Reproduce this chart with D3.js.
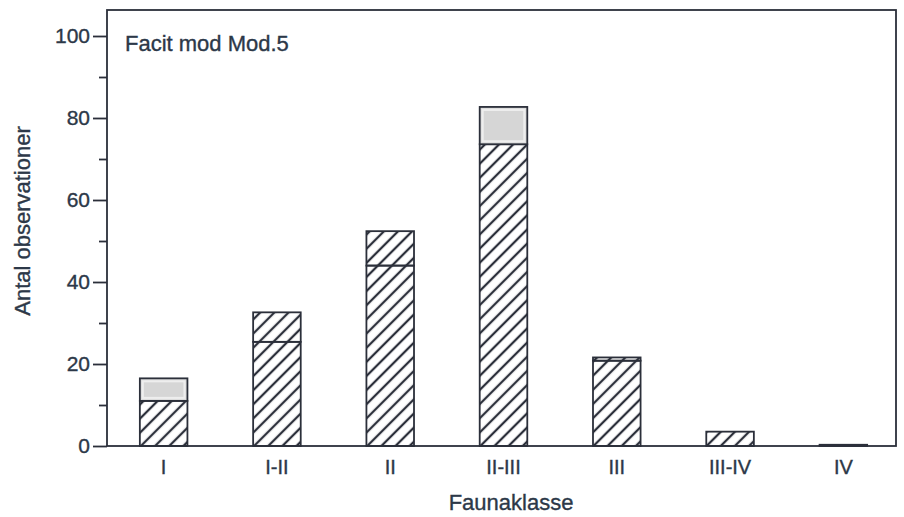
<!DOCTYPE html>
<html>
<head>
<meta charset="utf-8">
<script src="https://cdn.jsdelivr.net/npm/d3@7"></script>
<style>
  body { margin: 0; background: #fff; }
  text { font-family: "Liberation Sans", Arial, sans-serif; fill: #2c3848; stroke: #2c3848; stroke-width: 0.35px; }
</style>
</head>
<body>
<script>
// dati
var categories = ["I", "I-II", "II", "II-III", "III", "III-IV", "IV"];
var lowerValues = [11, 25.4, 44, 73.6, 20.8, 3.5, 0.3];   // parte tratteggiata
var totalValues = [16.5, 32.6, 52.4, 82.7, 21.6, 3.5, 0.3]; // altezza totale
var upperKind = ["grey", "hatch", "hatch", "grey", "hatch", "none", "none"];
var yTicks = [0, 20, 40, 60, 80, 100];
var yMinorTicks = [10, 30, 50, 70, 90];

var W = 904, H = 517;
var frame = {left: 107, top: 10, right: 896, bottom: 446};

var svg = d3.select("body").append("svg")
    .attr("width", W)
    .attr("height", H);

var ink = "#2b2f3a";

var defs = svg.append("defs");
var pat = defs.append("pattern")
    .attr("id", "hatch")
    .attr("patternUnits", "userSpaceOnUse")
    .attr("width", 10)
    .attr("height", 10)
    .attr("patternTransform", "rotate(45)");
pat.append("line")
    .attr("x1", 5).attr("y1", 0)
    .attr("x2", 5).attr("y2", 10)
    .attr("stroke", ink)
    .attr("stroke-width", 2.3);

var x = d3.scaleBand()
    .domain(categories)
    .range([frame.left, 900])
    .paddingInner(0.58)
    .paddingOuter(0.29);

var y = d3.scaleLinear()
    .domain([0, 100])
    .range([frame.bottom, 36]);

// cornice
svg.append("rect")
    .attr("x", frame.left)
    .attr("y", frame.top)
    .attr("width", frame.right - frame.left)
    .attr("height", frame.bottom - frame.top)
    .attr("fill", "none")
    .attr("stroke", ink)
    .attr("stroke-width", 1.8);

// asse y
var yAxis = svg.append("g")
    .attr("transform", "translate(" + frame.left + ",0)")
    .call(d3.axisLeft(y).tickValues(yTicks).tickSize(14).tickPadding(3));
yAxis.select(".domain").remove();
yAxis.selectAll(".tick line").attr("stroke", ink).attr("stroke-width", 1.8);
yAxis.selectAll(".tick text")
    .style("font-size", "21px")
    .attr("fill", "#2c3848");

svg.append("g")
    .attr("transform", "translate(" + frame.left + ",0)")
    .call(d3.axisLeft(y).tickValues(yMinorTicks).tickSize(8).tickFormat(""))
    .call(function (g) { g.select(".domain").remove(); })
    .selectAll(".tick line").attr("stroke", ink).attr("stroke-width", 1.8);

// asse x (solo etichette)
var xAxis = svg.append("g")
    .attr("transform", "translate(0," + frame.bottom + ")")
    .call(d3.axisBottom(x).tickSize(0).tickPadding(14));
xAxis.select(".domain").remove();
xAxis.selectAll(".tick text")
    .style("font-size", "20px")
    .attr("fill", "#2c3848");

// barre: parte inferiore tratteggiata
var bw = x.bandwidth();
svg.selectAll("rect.lower").data(categories).enter().append("rect")
    .attr("class", "lower")
    .attr("x", function (d) { return x(d); })
    .attr("y", function (d, i) { return y(lowerValues[i]); })
    .attr("width", bw)
    .attr("height", function (d, i) { return y(0) - y(lowerValues[i]); })
    .attr("fill", "url(#hatch)")
    .attr("stroke", ink)
    .attr("stroke-width", 1.8);

// parte superiore
svg.selectAll("rect.upper").data(categories.filter(function (d, i) { return upperKind[i] !== "none"; }))
    .enter().append("rect")
    .attr("class", "upper")
    .attr("x", function (d) { return x(d); })
    .attr("y", function (d) { var i = categories.indexOf(d); return y(totalValues[i]); })
    .attr("width", bw)
    .attr("height", function (d) { var i = categories.indexOf(d); return y(lowerValues[i]) - y(totalValues[i]); })
    .attr("fill", function (d) { var i = categories.indexOf(d); return upperKind[i] === "grey" ? "#dcdcdc" : "url(#hatch)"; })
    .attr("stroke", ink)
    .attr("stroke-width", 1.8);

// bordo chiaro interno delle parti grigie
svg.selectAll("rect.greyInner").data(categories.filter(function (d, i) { return upperKind[i] === "grey"; }))
    .enter().append("rect")
    .attr("x", function (d) { return x(d) + 3; })
    .attr("y", function (d) { var i = categories.indexOf(d); return y(totalValues[i]) + 3; })
    .attr("width", bw - 6)
    .attr("height", function (d) { var i = categories.indexOf(d); return y(lowerValues[i]) - y(totalValues[i]) - 6; })
    .attr("fill", "#d6d6d6")
    .attr("stroke", "#eeeeee")
    .attr("stroke-width", 2);

// titoli
svg.append("text")
    .attr("x", 125)
    .attr("y", 51)
    .style("font-size", "22px")
    .text("Facit mod Mod.5");

svg.append("text")
    .attr("transform", "translate(30,221) rotate(-90)")
    .attr("text-anchor", "middle")
    .style("font-size", "22px")
    .text("Antal observationer");

svg.append("text")
    .attr("x", 511)
    .attr("y", 510)
    .attr("text-anchor", "middle")
    .style("font-size", "22px")
    .text("Faunaklasse");
</script>
</body>
</html>
